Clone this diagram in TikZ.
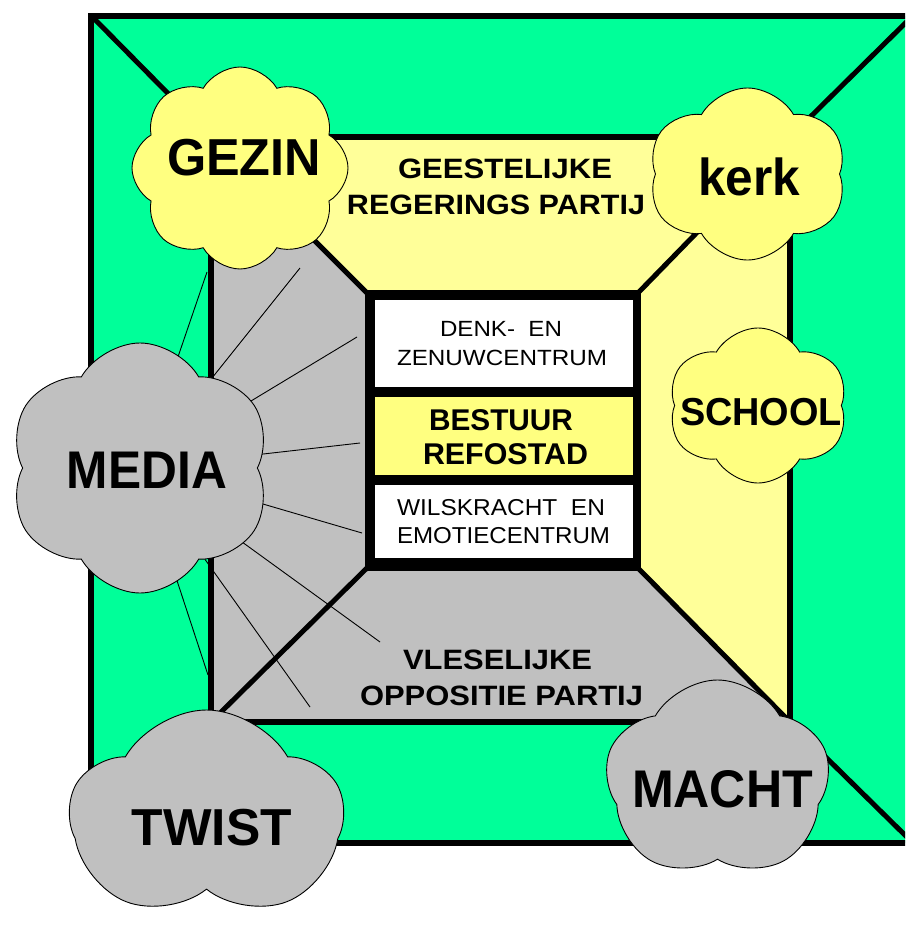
\documentclass[tikz,border=0pt]{standalone}
\usepackage{fontspec}
\setmainfont{Liberation Sans}
\usetikzlibrary{shapes.symbols}
\newcommand{\wfit}[2]{\resizebox{#1}{\height}{#2}}
\definecolor{grn}{HTML}{00FF99}
\definecolor{lyel}{HTML}{FFFF99}
\definecolor{cyel}{HTML}{FFFF80}
\definecolor{gry}{HTML}{C0C0C0}
\begin{document}
\begin{tikzpicture}[x=1pt,y=-1pt,
  cloudy/.style={cloud, cloud puffs=#1, cloud puff arc=120, cloud ignores aspect, draw=black, line width=0.9pt, inner sep=0pt},
  big/.style={anchor=base, inner sep=0pt, font=\bfseries\fontsize{#1}{#1}\selectfont},
  txt/.style={anchor=base, inner sep=0pt, font=\fontsize{#1}{#1}\selectfont},
  boxx/.style={rectangle, draw=none, inner sep=0pt},
  thick line/.style={line width=6pt},
  diag/.style={line width=5pt},
  fan/.style={line width=0.9pt}]
\fill[white] (0,0) rectangle (905,926);
\useasboundingbox (0,0) rectangle (905,926);
\clip (0,0) rectangle (905,926);
% corners
\coordinate (O1) at (91,15.5); \coordinate (O2) at (913,15.5);
\coordinate (O3) at (913,843); \coordinate (O4) at (91,843);
\coordinate (M1) at (211,137); \coordinate (M2) at (790,137);
\coordinate (M3) at (790,722); \coordinate (M4) at (211,722);
\coordinate (I1) at (369,295); \coordinate (I2) at (636,295);
\coordinate (I3) at (636,566); \coordinate (I4) at (369,566);
% fills
\fill[grn] (O1) rectangle (O3);
\fill[lyel] (M1) -- (M2) -- (I2) -- (I1) -- cycle;
\fill[lyel] (M2) -- (M3) -- (I3) -- (I2) -- cycle;
\fill[gry] (M4) -- (M3) -- (I3) -- (I4) -- cycle;
\fill[gry] (M1) -- (M4) -- (I4) -- (I1) -- cycle;
% lines
\draw[thick line] (O1) rectangle (O3);
\draw[diag] (O1) -- (M1) (O2) -- (M2) (O3) -- (M3) (O4) -- (M4);
\draw[thick line] (M1) rectangle (M3);
\draw[diag] (M1) -- (I1) (M2) -- (I2) (M3) -- (I3) (M4) -- (I4);
% inner block
\fill[black] (365,290) rectangle (641,571);
\node[boxx, fill=white, minimum width=258pt, minimum height=87pt] (box1) at (504,343.5) {};
\node[boxx, fill=cyel, minimum width=258pt, minimum height=78pt] (box2) at (504,436) {};
\node[boxx, fill=white, minimum width=258pt, minimum height=73pt] (box3) at (504,521.5) {};
% texts
\node[big=28] (t1) at (505,178) {\wfit{214pt}{GEESTELIJKE}};
\node[big=28] (t2) at (496,214) {\wfit{298pt}{REGERINGS PARTIJ}};
\node[txt=22] (t3) at (501,336) {\wfit{122pt}{DENK-\ \ EN}};
\node[txt=22] (t4) at (502,365) {\wfit{210pt}{ZENUWCENTRUM}};
\node[big=30] (t5) at (501,430) {\wfit{144pt}{BESTUUR}};
\node[big=30] (t6) at (505.5,464) {\wfit{165pt}{REFOSTAD}};
\node[txt=23] (t7) at (501,515) {\wfit{208pt}{WILSKRACHT\ \ EN}};
\node[txt=23] (t8) at (503.5,543) {\wfit{213pt}{EMOTIECENTRUM}};
\node[big=28] (t9) at (497.5,669) {\wfit{189pt}{VLESELIJKE}};
\node[big=28] (t10) at (501.5,705) {\wfit{283pt}{OPPOSITIE PARTIJ}};
% fan lines from MEDIA
\coordinate (mediac) at (140,468);
\coordinate (f1) at (207,272); \coordinate (f2) at (300,268);
\coordinate (f3) at (357,337); \coordinate (f4) at (360,443);
\coordinate (f5) at (362,533); \coordinate (f6) at (380,642);
\coordinate (f7) at (310,707); \coordinate (f8) at (208,675);
\foreach \f in {f1,f2,f3,f4,f5,f6,f7,f8} \draw[fan] (mediac) -- (\f);
% clouds
\node[cloudy=8, fill=cyel, minimum width=216pt, minimum height=202pt] (gezin) at (240,168) {};
\node[cloudy=6, fill=cyel, minimum width=199pt, minimum height=172pt] (kerk) at (747.5,174) {};
\node[cloudy=6, fill=cyel, minimum width=180pt, minimum height=155pt] (school) at (758,405.5) {};
\node[cloudy=6, fill=gry, minimum width=264pt, minimum height=250pt] (media) at (mediac) {};
\node[cloudy=5, fill=gry, minimum width=273pt, minimum height=212pt] (twist) at (206.5,816) {};
\node[cloudy=5, fill=gry, minimum width=225pt, minimum height=200pt] (macht) at (717.5,780) {};
\node[big=52] (lgezin) at (244,175) {\wfit{154pt}{GEZIN}};
\node[big=52] (lkerk) at (749,195) {\wfit{102pt}{kerk}};
\node[big=39] (lschool) at (761,425) {\wfit{162pt}{SCHOOL}};
\node[big=53] (lmedia) at (147,488) {\wfit{160pt}{MEDIA}};
\node[big=52] (ltwist) at (212,845) {\wfit{160pt}{TWIST}};
\node[big=53] (lmacht) at (722.5,807) {\wfit{181pt}{MACHT}};
\end{tikzpicture}
\end{document}
